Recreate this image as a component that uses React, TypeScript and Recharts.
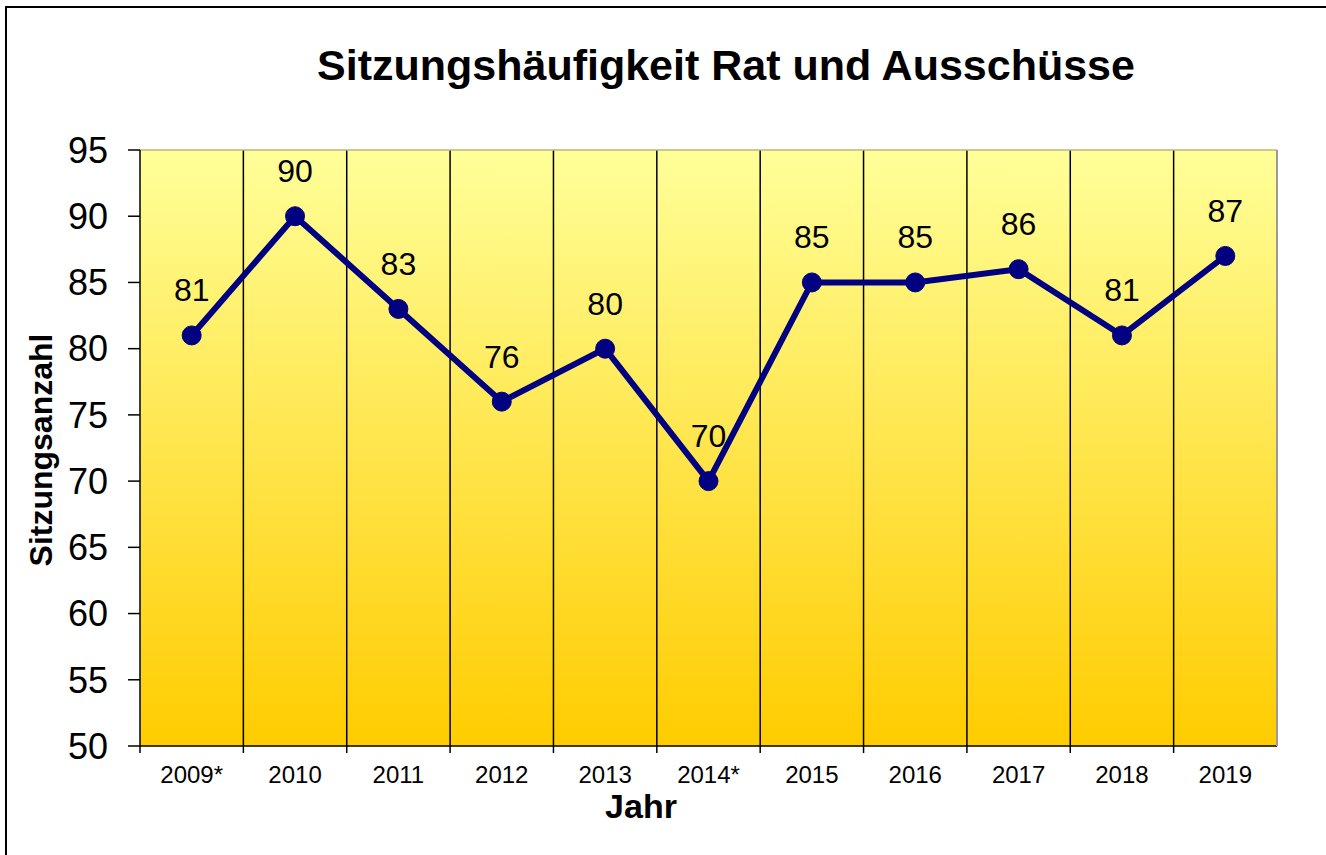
import React from "react";
import {
  LineChart,
  Line,
  XAxis,
  YAxis,
  CartesianGrid,
  LabelList,
} from "recharts";

const years = ["2009*", "2010", "2011", "2012", "2013", "2014*", "2015", "2016", "2017", "2018", "2019"];
const meetings = [81, 90, 83, 76, 80, 70, 85, 85, 86, 81, 87];
const yTicks = [50, 55, 60, 65, 70, 75, 80, 85, 90, 95];

const data = years.map((year, i) => ({ year, value: meetings[i] }));

const FONT = "Arial, 'Liberation Sans', sans-serif";

// x tick: label in the middle, small tick line at the left edge of the band
const renderYearTick = (props: any) => {
  const { x, y, payload } = props;
  const half = payload?.offset ?? 0;
  return (
    <g>
      <line x1={x - half} y1={y} x2={x - half} y2={y + 7} stroke="#000" strokeWidth={1.5} />
      <text x={x} y={y + 37} textAnchor="middle" fontSize={24} fontFamily={FONT} fill="#000">
        {payload.value}
      </text>
    </g>
  );
};

export default function App() {
  return (
    <div
      style={{
        position: "fixed",
        left: 0,
        top: 0,
        width: 1326,
        height: 855,
        overflow: "hidden",
        background: "#fff",
        fontFamily: FONT,
      }}
    >
      <div
        style={{
          position: "absolute",
          left: 5,
          top: 6,
          width: 1400,
          height: 1000,
          border: "2px solid #000",
        }}
      />
      <div
        style={{
          position: "absolute",
          left: 726,
          top: 65,
          transform: "translate(-50%, -50%)",
          fontSize: 43,
          fontWeight: "bold",
          whiteSpace: "nowrap",
        }}
      >
        Sitzungshäufigkeit Rat und Ausschüsse
      </div>
      <div
        style={{
          position: "absolute",
          left: 41,
          top: 450,
          transform: "translate(-50%, -50%) rotate(-90deg)",
          fontSize: 32,
          fontWeight: "bold",
          whiteSpace: "nowrap",
        }}
      >
        Sitzungsanzahl
      </div>
      <div
        style={{
          position: "absolute",
          left: 641,
          top: 806,
          transform: "translate(-50%, -50%)",
          fontSize: 34,
          fontWeight: "bold",
        }}
      >
        Jahr
      </div>
      <div style={{ position: "absolute", left: 0, top: 0 }}>
        <LineChart
          width={1326}
          height={855}
          data={data}
          margin={{ top: 149, right: 48, bottom: 79, left: 80 }}
        >
          <defs>
            <linearGradient id="plotBg" x1="0" y1="0" x2="0" y2="1">
              <stop offset="0%" stopColor="#FFFF99" />
              <stop offset="100%" stopColor="#FFCC00" />
            </linearGradient>
          </defs>
          <CartesianGrid
            horizontal={false}
            fill="url(#plotBg)"
            stroke="#000"
            strokeWidth={1.5}
            verticalCoordinatesGenerator={({ offset }: any) =>
              years.slice(1).map((_, i) => offset.left + ((i + 1) * offset.width) / years.length)
            }
          />
          <XAxis
            dataKey="year"
            scale="band"
            axisLine={{ stroke: "#000", strokeWidth: 1.5 }}
            tickLine={false}
            tickSize={0}
            tickMargin={0}
            interval={0}
            tick={renderYearTick}
            height={30}
          />
          <XAxis
            dataKey="year"
            xAxisId="top"
            scale="band"
            orientation="top"
            axisLine={{ stroke: "#b8b878", strokeWidth: 1.5 }}
            tick={false}
            tickLine={false}
            height={1}
          />
          <YAxis
            domain={[50, 95]}
            ticks={yTicks}
            interval={0}
            axisLine={{ stroke: "#000", strokeWidth: 1.5 }}
            tickLine={{ stroke: "#000", strokeWidth: 1.5 }}
            tickSize={12}
            tickMargin={20}
            tick={{ fill: "#000", fontSize: 36, fontFamily: FONT }}
            width={60}
          />
          <YAxis
            yAxisId="right"
            orientation="right"
            domain={[50, 95]}
            axisLine={{ stroke: "#9a9a9a", strokeWidth: 2 }}
            tick={false}
            tickLine={false}
            width={1}
          />
          <Line
            type="linear"
            dataKey="value"
            stroke="#000080"
            strokeWidth={6}
            dot={{ r: 9.5, fill: "#000080", stroke: "#000080", strokeWidth: 1 }}
            isAnimationActive={false}
          >
            <LabelList
              dataKey="value"
              position="top"
              offset={34}
              fill="#000"
              fontSize={32}
              fontFamily={FONT}
            />
          </Line>
        </LineChart>
      </div>
    </div>
  );
}
